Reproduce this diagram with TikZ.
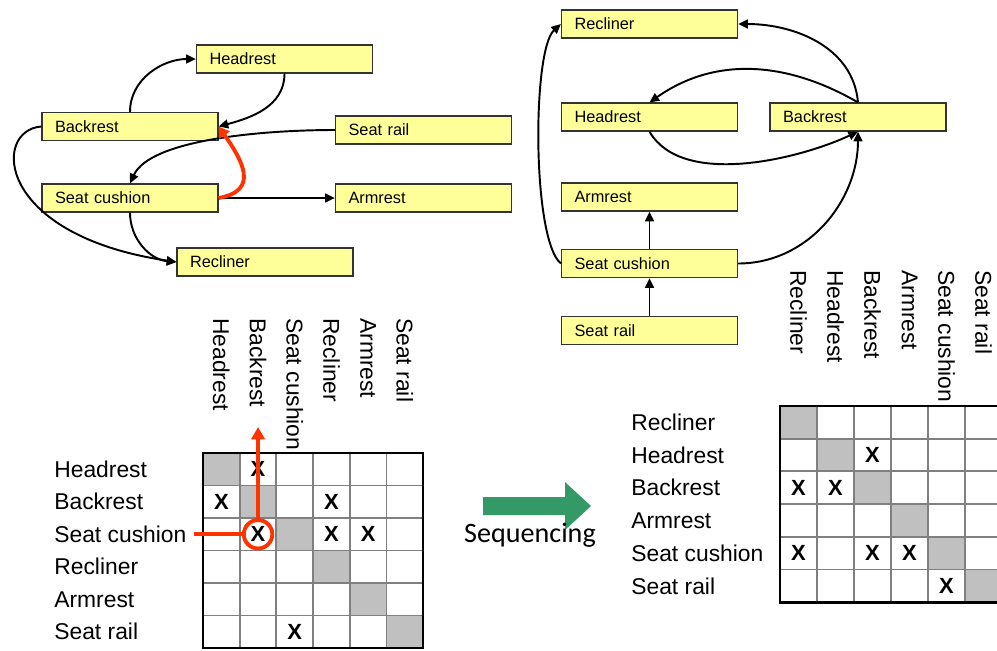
\documentclass[tikz,border=0pt]{standalone}
\usepackage{fontspec}
\setmainfont{Liberation Sans}
\newfontfamily\seqfont{Carlito}
\usepackage{tikz}
\usetikzlibrary{arrows.meta, positioning}
\definecolor{PartYellow}{HTML}{FFFF99}
\definecolor{FlagRed}{HTML}{FF3300}
\definecolor{SeqGreen}{HTML}{339966}
\definecolor{DiagGray}{HTML}{C0C0C0}
\definecolor{GridGray}{HTML}{808080}

\begin{document}
\begin{tikzpicture}[x=0.02cm, y=-0.02cm,
    partbox/.style={rectangle, draw=black!80, line width=0.7pt, fill=PartYellow,
          minimum height=0.56cm, text width=3.0cm, inner xsep=0.26cm, inner ysep=0pt,
          align=left, font=\fontsize{9.3}{11}\selectfont},
    link/.style={line width=1.1pt, -{Triangle[length=5.5pt,width=5pt]}},
    flag/.style={draw=FlagRed, line width=2.2pt},
    ring/.style={circle, flag, minimum size=0.57cm, inner sep=0pt},
    rowlbl/.style={anchor=west, inner sep=0pt, font=\fontsize{13}{15}\selectfont},
    collbl/.style={anchor=west, rotate=-90, inner sep=0pt, font=\fontsize{13}{15}\selectfont},
    depx/.style={inner sep=0pt, font=\fontsize{12.5}{14}\selectfont\bfseries},
    gridline/.style={draw=GridGray, line width=1.1pt},
    frame/.style={draw=black, line width=1.5pt}]
    \useasboundingbox (0,0) rectangle (997,650);

    % Graph before sequencing
    \node[partbox] (lHead) at (284.5,59)  {Headrest};
    \node[partbox] (lBack) at (130,126.5) {Backrest};
    \node[partbox] (lRail) at (423.5,130) {Seat rail};
    \node[partbox] (lSeat) at (130,198)   {Seat cushion};
    \node[partbox] (lArm)  at (423.5,198) {Armrest};
    \node[partbox] (lRecl) at (265,262)   {Recliner};

    \draw[link] (lBack.north) to[out=90,in=180] (lHead.west);
    \draw[link] (lHead.south) to[out=-90,in=15] (lBack.east);
    \draw[link] (lRail.west) .. controls (260,130) and (150,140) .. (lSeat.north);
    \draw[link] (lBack.west) .. controls (-8,130) and (-5,235) .. (lRecl.west);
    \draw[link] (lSeat.south) to[out=-90,in=175] (lRecl.west);
    \draw[link] (lSeat.east) -- (lArm.west);
    \draw[flag, -{Triangle[length=6pt,width=7pt]}] (lSeat.east) to[out=10,in=-55,looseness=1.5] (lBack.east);

    % Graph after sequencing
    \node[partbox] (rRecl) at (649.5,24)    {Recliner};
    \node[partbox] (rHead) at (649.5,117)   {Headrest};
    \node[partbox] (rBack) at (858,117)     {Backrest};
    \node[partbox] (rArm)  at (649.5,197)   {Armrest};
    \node[partbox] (rSeat) at (649.5,263.5) {Seat cushion};
    \node[partbox] (rRail) at (649.5,330.5) {Seat rail};

    \draw[link] (rBack.north) to[out=95,in=0] (rRecl.east);
    \draw[link] (rBack.north) to[out=150,in=35] (rHead.north);
    \draw[link] (rHead.south) to[out=-60,in=205,looseness=0.8] (rBack.south);
    \draw[link] (rSeat.east) to[out=0,in=-90] (rBack.south);
    \draw[link] (rSeat.west) .. controls (532,240) and (532,50) .. (rRecl.west);
    \draw[link] (rSeat.north) -- (rArm.south);
    \draw[link] (rRail.north) -- (rSeat.south);

    % Matrix before sequencing
    \foreach \i in {1,...,6}
        \fill[DiagGray] ({203+36.7*(\i-1)},{453+32.5*(\i-1)}) rectangle +(36.7,32.5);
    \foreach \i in {1,...,5} {
        \draw[gridline] ({203+36.7*\i},453) -- +(0,195);
        \draw[gridline] (203,{453+32.5*\i}) -- +(220,0);
    }
    \draw[frame] (203,453) rectangle (423,648);
    \foreach \lbl [count=\i] in {Headrest, Backrest, Seat cushion, Recliner, Armrest, Seat rail} {
        \node[rowlbl] (lrow\i) at (54,{453+32.5*\i-16.25}) {\lbl};
        \node[collbl] (lcol\i) at ({203+36.7*\i-18.35},318) {\lbl};
    }
    \foreach \r/\c in {1/2, 2/1, 2/4, 3/2, 3/4, 3/5, 6/3}
        \node[depx] (lx\r\c) at ({203+36.7*\c-18.35},{453+32.5*\r-16.25}) {X};

    % Feedback mark
    \node[ring] (hit) at ({203+36.7*1.5},{453+32.5*2.5}) {};
    \coordinate (hitFrom) at (194,{453+32.5*2.5});
    \coordinate (hitTo) at ({203+36.7*1.5},427);
    \draw[flag] (hitFrom) -- (hit.west);
    \draw[flag, -{Triangle[length=7pt,width=7.5pt]}] (hit.north) -- (hitTo);

    % Sequencing arrow
    \fill[SeqGreen] (483,497) -- (565,497) -- (565,482) -- (591,506) -- (565,530)
        -- (565,515) -- (483,515) -- cycle;
    \node[anchor=base, inner sep=0pt, font=\seqfont\fontsize{16}{18}\selectfont] (seq) at (530,542) {Sequencing};

    % Matrix after sequencing
    \foreach \i in {1,...,6}
        \fill[DiagGray] ({780+37*(\i-1)},{406+32.7*(\i-1)}) rectangle +(37,32.7);
    \foreach \i in {1,...,5} {
        \draw[gridline] ({780+37*\i},406) -- +(0,196.2);
        \draw[gridline] (780,{406+32.7*\i}) -- +(222,0);
    }
    \draw[frame] (780,406) rectangle (1002,602.2);
    \foreach \lbl [count=\i] in {Recliner, Headrest, Backrest, Armrest, Seat cushion, Seat rail} {
        \node[rowlbl] (rrow\i) at (631,{406+32.7*\i-16.35}) {\lbl};
        \node[collbl] (rcol\i) at ({780+37*\i-18.5},270) {\lbl};
    }
    \foreach \r/\c in {2/3, 3/1, 3/2, 5/1, 5/3, 5/4, 6/5}
        \node[depx] (rx\r\c) at ({780+37*\c-18.5},{406+32.7*\r-16.35}) {X};
\end{tikzpicture}
\end{document}
